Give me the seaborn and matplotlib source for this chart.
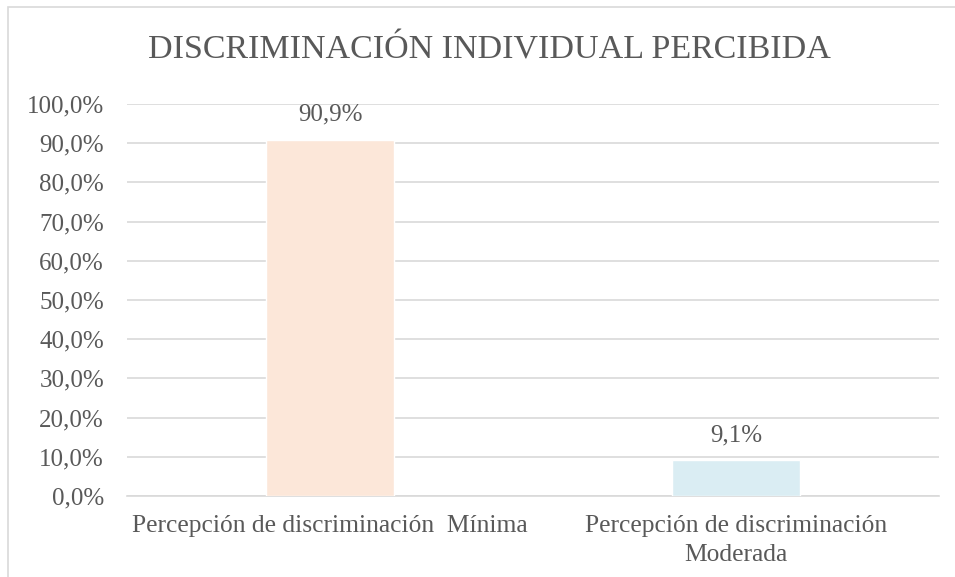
import pandas as pd
import matplotlib.pyplot as plt
import seaborn as sns
from matplotlib.patches import Rectangle
from matplotlib.ticker import FuncFormatter

categorias = ["Percepción de discriminación  Mínima", "Percepción de discriminación\nModerada"]
porcentajes = [90.9, 9.1]
colores = ["#FCE7D9", "#DAEDF3"]
ticks_y = [0, 10, 20, 30, 40, 50, 60, 70, 80, 90, 100]

df = pd.DataFrame({"categoria": categorias, "valor": porcentajes})

sns.set_style("white")
plt.rcParams["font.family"] = ["Liberation Serif", "DejaVu Serif"]
gris = "#595959"

fig = plt.figure(figsize=(9.55, 5.77), dpi=100)
ax = fig.add_axes([127 / 955, 1 - 496 / 577, 812 / 955, 392 / 577])

# marco del grafico
fig.patches.append(Rectangle((8 / 955, -0.1), 1.0, 1 - 7 / 577 + 0.1,
                             transform=fig.transFigure, fill=False,
                             edgecolor="#D9D9D9", linewidth=1.2, zorder=0))

sns.barplot(data=df, x="categoria", y="valor", hue="categoria", palette=colores,
            width=0.315, legend=False, ax=ax, zorder=3, saturation=1)

ax.set_ylim(0, 100)
ax.set_xlim(-0.5, 1.5)
ax.set_yticks(ticks_y)
ax.yaxis.set_major_formatter(FuncFormatter(lambda v, p: f"{v:.1f}%".replace(".", ",")))
ax.grid(axis="y", color="#D9D9D9", linewidth=1.2, zorder=0)
ax.set_axisbelow(True)
for s in ["top", "right", "left"]:
    ax.spines[s].set_visible(False)
ax.spines["bottom"].set_color("#D9D9D9")
ax.spines["bottom"].set_linewidth(1.2)
ax.tick_params(axis="y", length=0, labelsize=18, labelcolor=gris, pad=16.5)
ax.tick_params(axis="x", length=0, labelsize=18.4, labelcolor=gris, pad=14)
for t in ax.get_xticklabels():
    t.set_linespacing(1.4)
ax.set_xlabel("")
ax.set_ylabel("")

for i, v in enumerate(porcentajes):
    ax.text(i, v + 3.6, f"{v:.1f}%".replace(".", ","), ha="center", va="bottom",
            fontsize=18, color=gris)

fig.text(489 / 955, 1 - 50 / 577, "DISCRIMINACIÓN INDIVIDUAL PERCIBIDA",
         ha="center", va="center", fontsize=24.5, color=gris)

plt.savefig("out.png", dpi=100)
